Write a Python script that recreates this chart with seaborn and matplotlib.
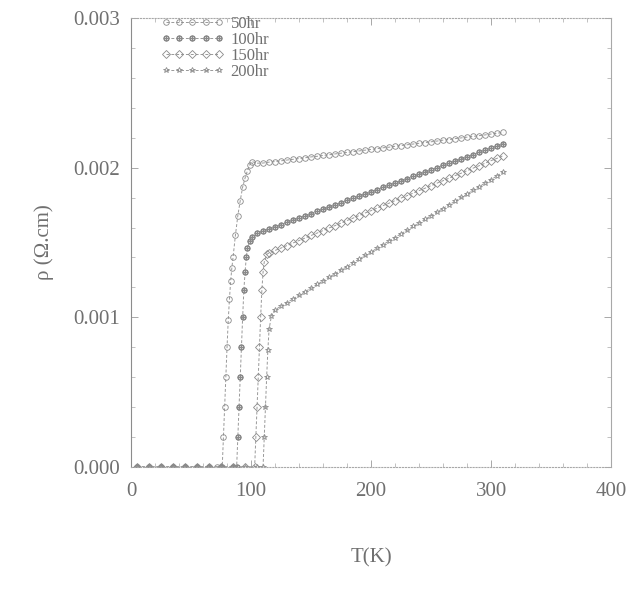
import matplotlib
matplotlib.use("Agg")
import matplotlib.pyplot as plt
import seaborn as sns
import pandas as pd
from matplotlib.ticker import AutoMinorLocator

# ---------------- data ----------------
series_names = ["50hr", "100hr", "150hr", "200hr"]

T_50 = [5, 15, 25, 35, 45, 55, 65, 72, 76, 77, 78, 79, 80, 81, 82, 83, 84, 85, 87, 89, 91, 93, 95, 97, 99, 101,
        105, 110, 115, 120, 125, 130, 135, 140, 145, 150, 155, 160, 165, 170, 175, 180, 185, 190, 195, 200,
        205, 210, 215, 220, 225, 230, 235, 240, 245, 250, 255, 260, 265, 270, 275, 280, 285, 290, 295, 300, 305, 310]
rho_50 = [0, 0, 0, 0, 0, 0, 0, 0, 0, 0.00020, 0.00040, 0.00060, 0.00080, 0.00098, 0.00112, 0.00124, 0.00133, 0.00140,
          0.00155, 0.00168, 0.00178, 0.00187, 0.00193, 0.00198, 0.00202, 0.00204,
          0.002030, 0.002031, 0.002037, 0.002041, 0.002046, 0.002051, 0.002056, 0.002061, 0.002066, 0.002072,
          0.002076, 0.002082, 0.002086, 0.002092, 0.002097, 0.002102, 0.002107, 0.002112, 0.002117, 0.002122,
          0.002127, 0.002133, 0.002137, 0.002143, 0.002148, 0.002153, 0.002158, 0.002163, 0.002168, 0.002173,
          0.002178, 0.002184, 0.002188, 0.002194, 0.002199, 0.002204, 0.002209, 0.002214, 0.002219, 0.002225,
          0.002230, 0.002236]

T_100 = [5, 15, 25, 35, 45, 55, 65, 75, 85, 88, 89, 90, 91, 92, 93, 94, 95, 96, 97, 99, 101,
         105, 110, 115, 120, 125, 130, 135, 140, 145, 150, 155, 160, 165, 170, 175, 180, 185, 190, 195, 200,
         205, 210, 215, 220, 225, 230, 235, 240, 245, 250, 255, 260, 265, 270, 275, 280, 285, 290, 295, 300, 305, 310]
rho_100 = [0, 0, 0, 0, 0, 0, 0, 0, 0, 0, 0.00020, 0.00040, 0.00060, 0.00080, 0.00100, 0.00118, 0.00130, 0.00140,
           0.00146, 0.00151, 0.00154,
           0.001562, 0.001577, 0.001591, 0.001606, 0.001620, 0.001635, 0.001650, 0.001664, 0.001679, 0.001693,
           0.001708, 0.001723, 0.001737, 0.001752, 0.001766, 0.001781, 0.001796, 0.001810, 0.001825, 0.001839,
           0.001854, 0.001869, 0.001883, 0.001898, 0.001912, 0.001927, 0.001942, 0.001956, 0.001971, 0.001985,
           0.002000, 0.002015, 0.002029, 0.002044, 0.002058, 0.002073, 0.002088, 0.002102, 0.002117, 0.002131,
           0.002146, 0.002160]

T_150 = [5, 15, 25, 35, 45, 55, 65, 75, 85, 95, 103, 104, 105, 106, 107, 108, 109, 110, 111, 113,
         115, 120, 125, 130, 135, 140, 145, 150, 155, 160, 165, 170, 175, 180, 185, 190, 195, 200,
         205, 210, 215, 220, 225, 230, 235, 240, 245, 250, 255, 260, 265, 270, 275, 280, 285, 290, 295, 300, 305, 310]
rho_150 = [0, 0, 0, 0, 0, 0, 0, 0, 0, 0, 0, 0.00020, 0.00040, 0.00060, 0.00080, 0.00100, 0.00118, 0.00130,
           0.00137, 0.00142,
           0.001430, 0.001447, 0.001463, 0.001480, 0.001497, 0.001513, 0.001530, 0.001547, 0.001563, 0.001580,
           0.001597, 0.001613, 0.001630, 0.001647, 0.001663, 0.001680, 0.001697, 0.001713, 0.001730, 0.001747,
           0.001763, 0.001780, 0.001797, 0.001813, 0.001830, 0.001847, 0.001863, 0.001880, 0.001897, 0.001913,
           0.001930, 0.001947, 0.001963, 0.001980, 0.001997, 0.002013, 0.002030, 0.002047, 0.002063, 0.002080]

T_200 = [5, 15, 25, 35, 45, 55, 65, 75, 85, 95, 105, 110, 111, 112, 113, 114, 115, 117,
         120, 125, 130, 135, 140, 145, 150, 155, 160, 165, 170, 175, 180, 185, 190, 195, 200,
         205, 210, 215, 220, 225, 230, 235, 240, 245, 250, 255, 260, 265, 270, 275, 280, 285, 290, 295, 300, 305, 310]
rho_200 = [0, 0, 0, 0, 0, 0, 0, 0, 0, 0, 0, 0, 0.00020, 0.00040, 0.00060, 0.00078, 0.00092, 0.00101,
           0.001050, 0.001075, 0.001097, 0.001124, 0.001146, 0.001172, 0.001194, 0.001220, 0.001243, 0.001269,
           0.001291, 0.001317, 0.001339, 0.001366, 0.001388, 0.001414, 0.001436, 0.001462, 0.001485, 0.001511,
           0.001533, 0.001559, 0.001581, 0.001608, 0.001630, 0.001656, 0.001678, 0.001704, 0.001727, 0.001753,
           0.001775, 0.001801, 0.001823, 0.001850, 0.001872, 0.001898, 0.001920, 0.001946, 0.001970]

x_ticks = [0, 100, 200, 300, 400]
y_ticks = [0.000, 0.001, 0.002, 0.003]
x_label = "T(K)"
y_label = "ρ (Ω.cm)"

# ---------------- build long table ----------------
frames = []
for name, T, r in zip(series_names, [T_50, T_100, T_150, T_200], [rho_50, rho_100, rho_150, rho_200]):
    frames.append(pd.DataFrame({"T": T, "rho": r, "series": name}))
df = pd.concat(frames, ignore_index=True)

# ---------------- style ----------------
sns.set_theme(style="ticks")
plt.rcParams["font.family"] = ["Liberation Serif", "DejaVu Serif"]
plt.rcParams["mathtext.fontset"] = "stix"

fig = plt.figure(figsize=(6.31, 5.93), dpi=100)
ax = fig.add_axes([0.2076, 0.2125, 0.7610, 0.7571])

line_col = "#999999"
mk_col = "#8a8a8a"
txt_col = "#707070"
markers = {"50hr": "o", "100hr": "$\\oplus$", "150hr": "D", "200hr": "*"}
palette = {n: line_col for n in series_names}
dashes = {n: (3, 2) for n in series_names}

sns.lineplot(data=df, x="T", y="rho", hue="series", style="series",
             hue_order=series_names, style_order=series_names,
             palette=palette, markers=markers, dashes=dashes,
             estimator=None, sort=False, linewidth=0.7,
             markersize=4, markerfacecolor="none", markeredgewidth=0.6,
             markeredgecolor=mk_col, ax=ax)

ax.set_xlim(0, 400)
ax.set_ylim(0, 0.003)
ax.set_xticks(x_ticks)
ax.set_yticks(y_ticks)
ax.set_xticklabels([str(v) for v in x_ticks])
ax.set_yticklabels([f"{v:.3f}" for v in y_ticks])
ax.xaxis.set_minor_locator(AutoMinorLocator(5))
ax.yaxis.set_minor_locator(AutoMinorLocator(5))
ax.tick_params(which="both", direction="in", top=True, right=True, colors="#a8a8a8",
               labelcolor=txt_col)
ax.tick_params(which="major", length=5, width=0.7, labelsize=15)
ax.tick_params(axis="x", which="major", pad=11)
ax.tick_params(axis="y", which="major", pad=8)
ax.tick_params(which="minor", length=3, width=0.5)

for side, sp in ax.spines.items():
    sp.set_color("#a8a8a8")
    sp.set_linewidth(0.8)
ax.spines["top"].set_linestyle(":")
ax.spines["bottom"].set_linestyle(":")
ax.spines["left"].set_color("#8c8c8c")

ax.set_xlabel(x_label, fontsize=15, color=txt_col, labelpad=34)
ax.set_ylabel(y_label, fontsize=15, color=txt_col, labelpad=14)

leg = ax.legend(loc="upper left", frameon=False, fontsize=12, numpoints=5,
                handlelength=3.8, handletextpad=0.4, labelspacing=0.0,
                borderaxespad=0.0, borderpad=0.4,
                bbox_to_anchor=(0.048, 1.02), labelcolor=txt_col)

fig.savefig("out.png", dpi=100, facecolor="white")
